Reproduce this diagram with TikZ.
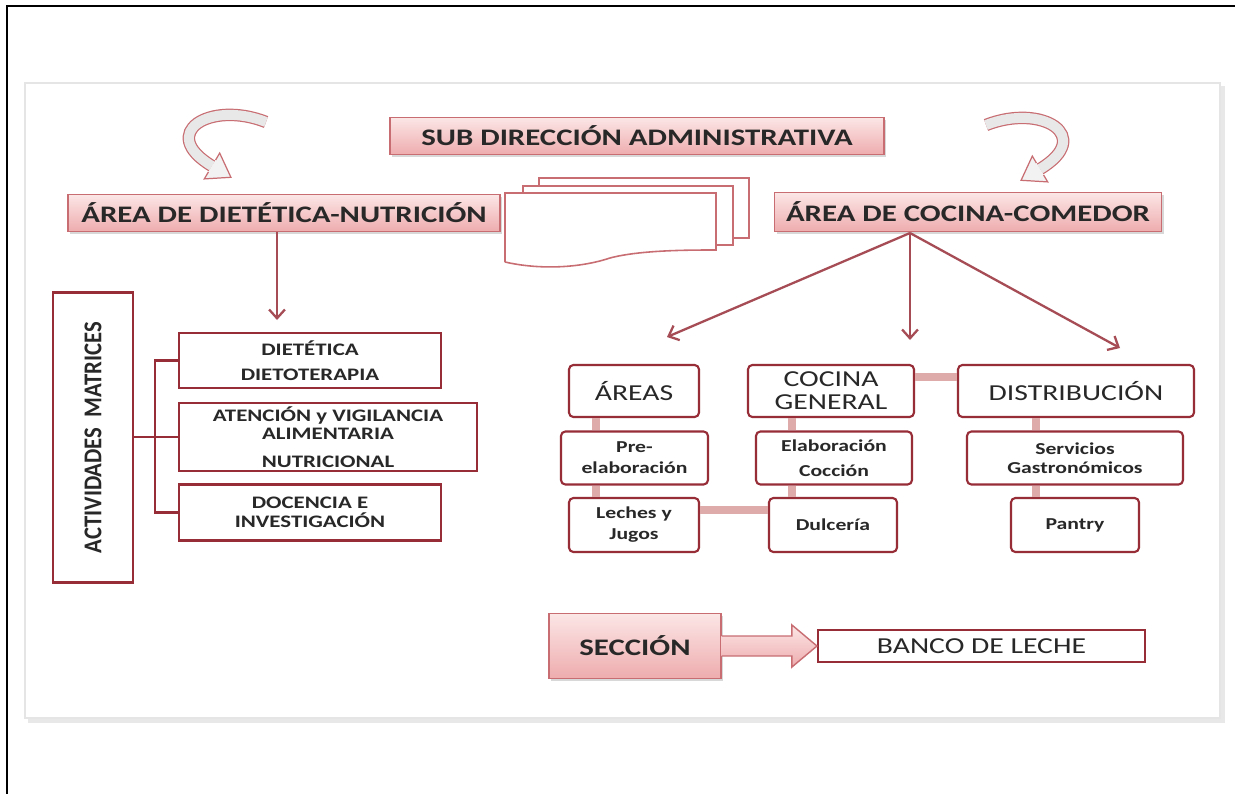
\documentclass[tikz,border=0pt]{standalone}
\usepackage{fontspec}
\usepackage{graphicx}
\setmainfont{Carlito}[FakeStretch=1.3]
\usetikzlibrary{shadows,calc,arrows.meta}
\definecolor{bordo}{RGB}{150,45,55}
\definecolor{bordoClaro}{RGB}{200,110,115}
\definecolor{rosaA}{RGB}{252,230,230}
\definecolor{rosaB}{RGB}{238,172,174}
\definecolor{enlaceC}{RGB}{222,170,170}
\definecolor{tinta}{RGB}{40,40,40}

\tikzset{
  tam/.style 2 args={minimum width=#1*0.02cm, minimum height=#2*0.02cm},
  titulo/.style={draw=bordoClaro, line width=0.8pt, top color=rosaA, bottom color=rosaB,
    text=tinta, align=center, inner sep=0pt, font=\fontsize{13.5}{15}\selectfont\bfseries,
    drop shadow={opacity=0.3, shadow xshift=1.2pt, shadow yshift=-1.2pt}},
  caja/.style={draw=bordo, line width=1.4pt, fill=white, text=tinta, align=center,
    inner sep=0pt, font=\fontsize{10}{10.5}\selectfont\bfseries},
  redonda/.style={caja, line width=1.2pt, rounded corners=2.5pt},
  grande/.style={font=\fontsize{13}{14}\selectfont},
  chica/.style={font=\fontsize{9.5}{11}\selectfont\bfseries},
  enlace/.style={draw=enlaceC, line width=0.17cm},
  flecha/.style={draw=bordo!85, line width=1.3pt, -{Straight Barb[length=5pt,width=9pt]}},
  doc/.style={draw=bordoClaro, fill=white, line width=0.9pt},
  curva/.style={draw=bordoClaro, line width=0.7pt, double=gray!18, double distance=0.2cm},
}

\begin{document}
\begin{tikzpicture}[x=0.02cm, y=-0.02cm]
  \useasboundingbox (0,0) rectangle (1235,794);
  % marco y panel
  \draw[line width=1.7pt] (7,794) -- (7,6) -- (1235,6);
  \fill[gray!18] (28,86) rectangle (1225,723);
  \draw[fill=white, draw=gray!20, line width=1.5pt] (25,83) rectangle (1220,718);

  % encabezados
  \node[titulo, tam={494}{37}] (subdir) at (637,136) {SUB DIRECCIÓN ADMINISTRATIVA};
  \node[titulo, tam={432}{37}] (dietetica) at (284,213) {ÁREA DE DIETÉTICA-NUTRICIÓN};
  \node[titulo, tam={387}{39}] (cocina) at (968,212) {ÁREA DE COCINA-COMEDOR};

  % flechas curvas
  \draw[curva] (266,122) .. controls (210,100) and (157,133) .. (212,166);
  \fill[gray!10] (215.6,160) -- (219.7,153.1) -- (230.9,177.3) -- (204.3,178.9) -- (208.4,172) -- cycle;
  \draw[draw=bordoClaro, line width=0.7pt] (215.6,160) -- (219.7,153.1) -- (230.9,177.3) -- (204.3,178.9) -- (208.4,172);
  \draw[curva] (986,125) .. controls (1042,103) and (1095,136) .. (1040,169);
  \fill[gray!10] (1036.4,163) -- (1032.3,156.1) -- (1021.1,180.3) -- (1047.7,181.9) -- (1043.6,175) -- cycle;
  \draw[draw=bordoClaro, line width=0.7pt] (1036.4,163) -- (1032.3,156.1) -- (1021.1,180.3) -- (1047.7,181.9) -- (1043.6,175);

  % documentos
  \draw[doc] (539,178) rectangle (749,238);
  \draw[doc] (523,186) rectangle (733,245);
  \draw[doc] (505,262) -- (505,193) -- (716,193) -- (716,250)
    .. controls (690,250) and (640,250) .. (610,258)
    .. controls (580,268) and (540,270) .. (505,262);

  % lado izquierdo
  \node[caja, tam={80}{290}] (actividades) at (93,437.5) {};
  \node[rotate=90, text=tinta, font=\fontsize{14.6}{16}\selectfont\bfseries] (actTexto)
    at (actividades.center) {\scalebox{0.68}[1]{ACTIVIDADES\ \ MATRICES}};
  \node[caja, tam={262}{55}] (dieto) at (310,360.5) {DIETÉTICA\\[4pt]DIETOTERAPIA};
  \node[caja, tam={298}{68}] (atencion) at (328,437) {ATENCIÓN y VIGILANCIA\\ALIMENTARIA\\[5pt]NUTRICIONAL};
  \node[caja, tam={262}{56}] (docencia) at (310,512.5) {DOCENCIA E\\INVESTIGACIÓN};

  \coordinate (dietaFin) at (277,320);
  \draw[flecha] (dietetica.south -| dietaFin) -- (dietaFin);

  \coordinate (llave) at (155,437);
  \draw[draw=bordo, line width=1.2pt] (actividades.east |- llave) -- (llave);
  \draw[draw=bordo, line width=1.2pt] (dieto.west) -| (llave |- docencia.west) -- (docencia.west);
  \draw[draw=bordo, line width=1.2pt] (llave) -- (atencion.west);

  % lado derecho
  \node[redonda, grande, tam={130}{52}] (areas) at (634,391) {ÁREAS};
  \node[redonda, grande, tam={166}{52}] (general) at (831,391) {COCINA\\[-1pt]GENERAL};
  \node[redonda, grande, tam={236}{52}] (distrib) at (1076,391) {DISTRIBUCIÓN};
  \node[redonda, chica, tam={147}{53}] (preelab) at (634.5,458) {Pre-\\[1pt]elaboración};
  \node[redonda, chica, tam={156}{53}] (elab) at (834,458) {Elaboración\\[3pt]Cocción};
  \node[redonda, chica, tam={216}{53}] (servicios) at (1075,458) {Servicios\\Gastronómicos};
  \node[redonda, chica, tam={130}{54}] (leches) at (634,525) {Leches y\\[1pt]Jugos};
  \node[redonda, chica, tam={128}{54}] (dulceria) at (833,525) {Dulcería};
  \node[redonda, chica, tam={128}{54}] (pantry) at (1075,525) {Pantry};

  \coordinate (colA) at (596,0);
  \coordinate (colB) at (792,0);
  \coordinate (colC) at (1036,0);
  \coordinate (filaC) at (0,377);
  \coordinate (filaL) at (0,510);
  \draw[enlace] (areas.south -| colA) -- (preelab.north -| colA);
  \draw[enlace] (preelab.south -| colA) -- (leches.north -| colA);
  \draw[enlace] (general.south -| colB) -- (elab.north -| colB);
  \draw[enlace] (elab.south -| colB) -- (dulceria.north -| colB);
  \draw[enlace] (distrib.south -| colC) -- (servicios.north -| colC);
  \draw[enlace] (servicios.south -| colC) -- (pantry.north -| colC);
  \draw[enlace] (general.east |- filaC) -- (distrib.west |- filaC);
  \draw[enlace] (leches.east |- filaL) -- (dulceria.west |- filaL);

  \coordinate (origen) at (910,233);
  \coordinate (puntaA) at (667,337);
  \coordinate (puntaB) at (910,340);
  \coordinate (puntaC) at (1120,348);
  \draw[flecha] (origen) -- (puntaA);
  \draw[flecha] (origen) -- (puntaB);
  \draw[flecha] (origen) -- (puntaC);

  % sección
  \node[titulo, tam={172}{65}] (seccion) at (635,646) {SECCIÓN};
  \node[caja, grande, line width=1.2pt, tam={327}{32}] (banco) at (981.5,646) {BANCO DE LECHE};
  \draw[draw=bordoClaro, line width=0.8pt, top color=rosaA, bottom color=rosaB]
    ($(seccion.east)+(0,-10)$) -- ($(banco.west)+(-25,-10)$) -- ($(banco.west)+(-25,-21)$)
    -- (banco.west) -- ($(banco.west)+(-25,21)$) -- ($(banco.west)+(-25,10)$)
    -- ($(seccion.east)+(0,10)$);
\end{tikzpicture}
\end{document}
